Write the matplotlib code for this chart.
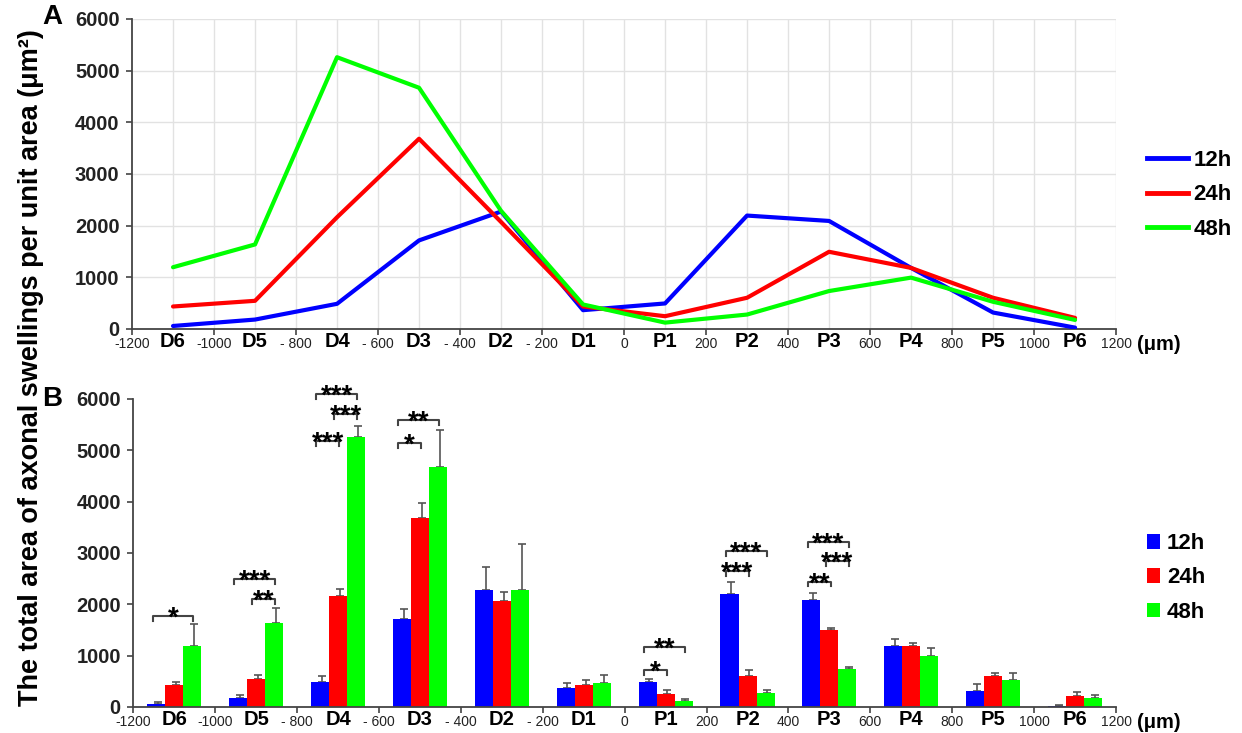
import numpy as np
import matplotlib
matplotlib.use('Agg')
import matplotlib.pyplot as plt
from matplotlib.lines import Line2D
from matplotlib.patches import Patch

plt.rcParams['font.family'] = ['Liberation Sans', 'DejaVu Sans']

# data
sites = ['D6', 'D5', 'D4', 'D3', 'D2', 'D1', 'P1', 'P2', 'P3', 'P4', 'P5', 'P6']
site_pos = [-1100, -900, -700, -500, -300, -100, 100, 300, 500, 700, 900, 1100]
series = ['12h', '24h', '48h']

area_12h = [58, 182, 487, 1714, 2273, 364, 494, 2195, 2091, 1182, 318, 26]
area_24h = [435, 545, 2162, 3682, 2071, 435, 247, 604, 1494, 1182, 604, 214]
area_48h = [1195, 1636, 5260, 4669, 2286, 474, 123, 279, 734, 994, 526, 175]

err_12h = [33, 52, 123, 195, 448, 97, 58, 234, 136, 149, 124, 19]
err_24h = [59, 78, 143, 299, 169, 91, 78, 117, 38, 71, 65, 78]
err_48h = [415, 286, 221, 727, 883, 149, 33, 52, 45, 155, 143, 65]

# significance brackets: site index, first bar, second bar, height, label
sig_site = [0, 1, 1, 2, 2, 2, 3, 3, 6, 6, 7, 7, 8, 8, 8]
sig_a = [0, 0, 1, 0, 1, 0, 0, 0, 0, 0, 0, 0, 0, 1, 0]
sig_b = [2, 2, 2, 2, 2, 1, 2, 1, 2, 1, 2, 1, 2, 2, 1]
sig_y = [1773, 2494, 2104, 6091, 5701, 5182, 5591, 5136, 1169, 714, 3039, 2649, 3214, 2838, 2442]
sig_txt = ['*', '***', '**', '***', '***', '***', '**', '*', '**', '*', '***', '***', '***', '***', '**']

num_ticks = list(range(-1200, 1201, 200))
num_labels = ['-1200', '-1000', '- 800', '- 600', '- 400', '- 200', '0',
              '200', '400', '600', '800', '1000', '1200']

colors = ['#0000FF', '#FF0000', '#00FF00']
values = [area_12h, area_24h, area_48h]
errors = [err_12h, err_24h, err_48h]

fig = plt.figure(figsize=(12.42, 7.33), dpi=100)
axA = fig.add_axes([0.1063, 0.5512, 0.7923, 0.4229])
axB = fig.add_axes([0.1073, 0.0355, 0.7913, 0.4202])

spine_col = '#444444'


def style_axes(ax):
    ax.set_xlim(-1200, 1200)
    ax.set_ylim(0, 6000)
    for s in ['top', 'right']:
        ax.spines[s].set_visible(False)
    for s in ['left', 'bottom']:
        ax.spines[s].set_color(spine_col)
        ax.spines[s].set_linewidth(1.3)
    ax.set_yticks(range(0, 6001, 1000))
    ax.set_yticklabels([str(v) for v in range(0, 6001, 1000)],
                       fontsize=14.5, fontweight='bold', color='#222222')
    ax.set_xticks(num_ticks)
    ax.set_xticklabels(num_labels, fontsize=10, color='#222222')
    ax.set_xticks(site_pos, minor=True)
    ax.set_xticklabels(sites, minor=True, fontsize=14.5, fontweight='bold')
    ax.tick_params(axis='x', which='major', length=4, width=1.2, color=spine_col, pad=2)
    ax.tick_params(axis='x', which='minor', length=0, pad=2.5)
    ax.tick_params(axis='y', length=4, width=1.2, color=spine_col, pad=5)
    ax.annotate('(\u03bcm)', xy=(1200, 0), xycoords='data', xytext=(15, -4),
                textcoords='offset points', ha='left', va='top',
                fontsize=14.5, fontweight='bold', annotation_clip=False)


# panel A - lines
style_axes(axA)
for v in range(-1100, 1201, 100):
    axA.axvline(v, color='#e2e2e2', lw=1, zorder=0)
for v in range(1000, 6001, 1000):
    axA.axhline(v, color='#e2e2e2', lw=1, zorder=0)
for i in range(3):
    axA.plot(site_pos, values[i], color=colors[i], lw=3, solid_capstyle='round', zorder=3)

handlesA = [Line2D([], [], color=c, lw=3.5) for c in colors]
fig.legend(handlesA, series, loc='center left', bbox_to_anchor=(0.9235, 0.734),
           frameon=False, borderpad=0, borderaxespad=0, handlelength=1.85, handletextpad=0.25,
           labelspacing=0.6, prop={'size': 16, 'weight': 'bold'})

# panel B - bars
style_axes(axB)
w = 44
for i in range(3):
    xs = np.array(site_pos) + (i - 1) * w
    axB.bar(xs, values[i], width=w, color=colors[i], zorder=2)
    axB.errorbar(xs + w * 0.1, values[i], yerr=[np.zeros(len(xs)), errors[i]], fmt='none',
                 ecolor='#555555', elinewidth=1.2, capsize=2.6, capthick=1.2, zorder=1)

for k in range(len(sig_site)):
    c = site_pos[sig_site[k]]
    x1 = c + (sig_a[k] - 1) * w - 9
    x2 = c + (sig_b[k] - 1) * w + 3
    y = sig_y[k]
    axB.plot([x1, x1, x2, x2], [y - 95, y, y, y - 95], color='#444444', lw=1.5, clip_on=False)
    axB.text((x1 + x2) / 2, y - 190, sig_txt[k], ha='center', va='baseline',
             fontsize=20, fontweight='bold', clip_on=False)

handlesB = [Patch(facecolor=c, edgecolor='none') for c in colors]
fig.legend(handlesB, series, loc='center left', bbox_to_anchor=(0.9235, 0.2115),
           frameon=False, borderpad=0, borderaxespad=0, handlelength=0.6, handleheight=0.65,
           handletextpad=0.3, labelspacing=0.6, prop={'size': 16, 'weight': 'bold'})

fig.text(0.042, 0.977, 'A', fontsize=20, fontweight='bold', ha='center', va='center')
fig.text(0.042, 0.456, 'B', fontsize=20, fontweight='bold', ha='center', va='center')
fig.text(0.025, 0.499, 'The total area of axonal swellings per unit area (\u03bcm\u00b2)',
         rotation=90, fontsize=19.5, fontweight='bold', ha='center', va='center')

plt.savefig('out.png', dpi=100)
